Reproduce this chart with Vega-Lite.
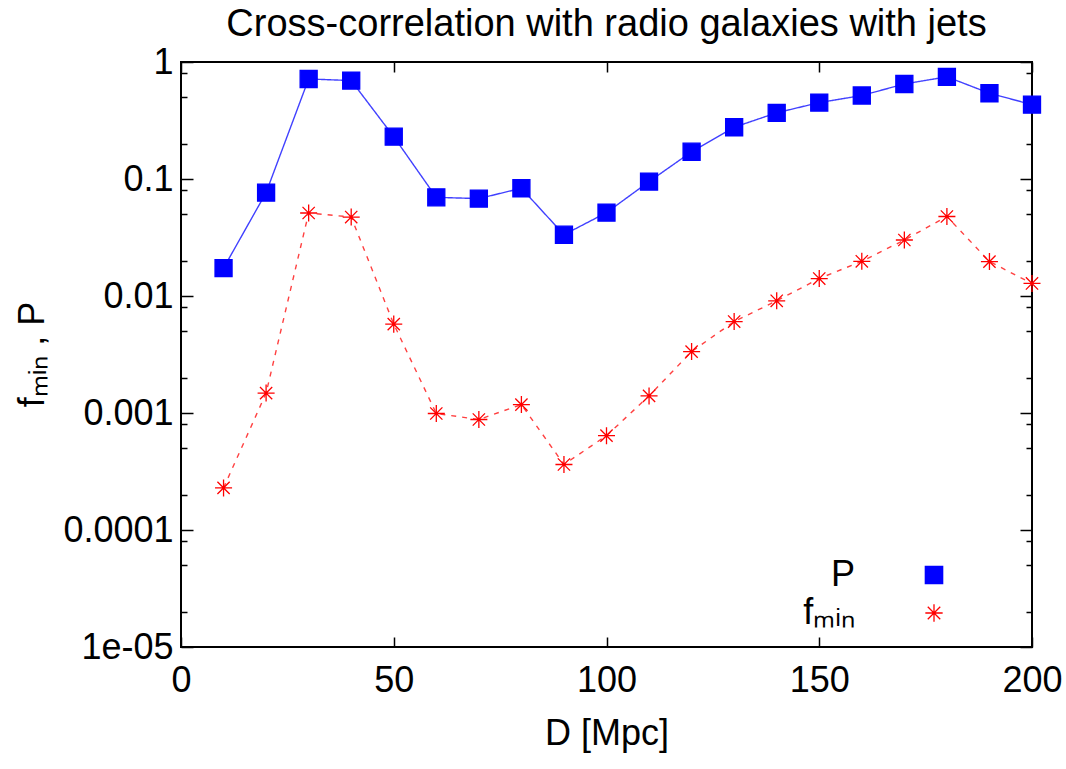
{
  "$schema": "https://vega.github.io/schema/vega-lite/v6.json",
  "width": 851,
  "height": 585,
  "autosize": {"type": "none"},
  "padding": {"left": 181, "top": 62, "right": 34, "bottom": 122},
  "background": "white",
  "config": {
    "font": "Liberation Sans",
    "view": {"stroke": "black", "strokeWidth": 2},
    "axis": {"domain": false, "grid": false, "labelFont": "Liberation Sans", "labelFontSize": 36, "labelColor": "black", "tickColor": "black", "tickWidth": 1.5, "titleFont": "Liberation Sans", "titleFontSize": 36, "titleFontWeight": "normal", "titleColor": "black", "labelOverlap": false, "labelFlush": false, "labelBound": false}
  },
  "title": {"text": "Cross-correlation with radio galaxies with jets", "font": "Liberation Sans", "fontSize": 38, "fontWeight": "normal", "color": "black", "baseline": "alphabetic", "offset": 24, "dy": 54, "anchor": "middle"},
  "data": {"values": [
    {"D": 10, "series": "P", "value": 0.0173},
    {"D": 20, "series": "P", "value": 0.0765},
    {"D": 30, "series": "P", "value": 0.716},
    {"D": 40, "series": "P", "value": 0.694},
    {"D": 50, "series": "P", "value": 0.23},
    {"D": 60, "series": "P", "value": 0.0697},
    {"D": 70, "series": "P", "value": 0.068},
    {"D": 80, "series": "P", "value": 0.0834},
    {"D": 90, "series": "P", "value": 0.0334},
    {"D": 100, "series": "P", "value": 0.0516},
    {"D": 110, "series": "P", "value": 0.095},
    {"D": 120, "series": "P", "value": 0.171},
    {"D": 130, "series": "P", "value": 0.277},
    {"D": 140, "series": "P", "value": 0.368},
    {"D": 150, "series": "P", "value": 0.45},
    {"D": 160, "series": "P", "value": 0.517},
    {"D": 170, "series": "P", "value": 0.649},
    {"D": 180, "series": "P", "value": 0.747},
    {"D": 190, "series": "P", "value": 0.541},
    {"D": 200, "series": "P", "value": 0.432},
    {"D": 10, "series": "fₘᵢₙ", "value": 0.000229},
    {"D": 20, "series": "fₘᵢₙ", "value": 0.00148},
    {"D": 30, "series": "fₘᵢₙ", "value": 0.0512},
    {"D": 40, "series": "fₘᵢₙ", "value": 0.0473},
    {"D": 50, "series": "fₘᵢₙ", "value": 0.00575},
    {"D": 60, "series": "fₘᵢₙ", "value": 0.00099},
    {"D": 70, "series": "fₘᵢₙ", "value": 0.00088},
    {"D": 80, "series": "fₘᵢₙ", "value": 0.00118},
    {"D": 90, "series": "fₘᵢₙ", "value": 0.000363},
    {"D": 100, "series": "fₘᵢₙ", "value": 0.00064},
    {"D": 110, "series": "fₘᵢₙ", "value": 0.0014},
    {"D": 120, "series": "fₘᵢₙ", "value": 0.00335},
    {"D": 130, "series": "fₘᵢₙ", "value": 0.00605},
    {"D": 140, "series": "fₘᵢₙ", "value": 0.0091},
    {"D": 150, "series": "fₘᵢₙ", "value": 0.0141},
    {"D": 160, "series": "fₘᵢₙ", "value": 0.0198},
    {"D": 170, "series": "fₘᵢₙ", "value": 0.0301},
    {"D": 180, "series": "fₘᵢₙ", "value": 0.0478},
    {"D": 190, "series": "fₘᵢₙ", "value": 0.0197},
    {"D": 200, "series": "fₘᵢₙ", "value": 0.0128}
  ]},
  "layer": [
    {
      "mark": {"type": "line", "strokeWidth": 1.4, "opacity": 0.75},
      "encoding": {
        "x": {"field": "D", "type": "quantitative", "scale": {"domain": [0, 200], "nice": false, "zero": false},
              "axis": {"orient": "bottom", "values": [0, 50, 100, 150, 200], "tickSize": -10, "labelPadding": 26, "title": "D [Mpc]", "titleY": 97, "titleBaseline": "alphabetic"}},
        "y": {"field": "value", "type": "quantitative", "scale": {"type": "log", "domain": [0.00001, 1], "nice": false},
              "axis": {"orient": "left",
                       "values": [0.00001, 0.00002, 0.00005, 0.00008, 0.0001, 0.0002, 0.0005, 0.0008, 0.001, 0.002, 0.005, 0.008, 0.01, 0.02, 0.05, 0.08, 0.1, 0.2, 0.5, 0.8, 1],
                       "tickSize": {"condition": {"test": "abs(log(datum.value)/LN10 - round(log(datum.value)/LN10)) < 0.001", "value": -12}, "value": -6},
                       "labelExpr": "abs(log(datum.value)/LN10 - round(log(datum.value)/LN10)) < 0.001 ? (datum.value < 0.00005 ? '1e-05' : format(datum.value, '~g')) : ''",
                       "labelPadding": 20,
                       "title": "fₘᵢₙ , P", "titleAngle": -90, "titleX": -138, "titleY": 292, "titleBaseline": "alphabetic", "titleAlign": "center"}},
        "detail": {"field": "series", "type": "nominal"},
        "color": {"condition": {"test": "datum.series == 'P'", "value": "#0000ff"}, "value": "#ff0000"},
        "strokeDash": {"condition": {"test": "datum.series == 'P'", "value": [1, 0]}, "value": [5, 6]}
      }
    },
    {
      "mark": {"type": "point", "size": 290, "strokeWidth": 1.3, "opacity": 1},
      "encoding": {
        "x": {"field": "D", "type": "quantitative",
              "axis": {"orient": "top", "values": [0, 50, 100, 150, 200], "tickSize": -10, "labels": false, "title": null}},
        "y": {"field": "value", "type": "quantitative",
              "axis": {"orient": "right",
                       "values": [0.00001, 0.00002, 0.00005, 0.00008, 0.0001, 0.0002, 0.0005, 0.0008, 0.001, 0.002, 0.005, 0.008, 0.01, 0.02, 0.05, 0.08, 0.1, 0.2, 0.5, 0.8, 1],
                       "tickSize": {"condition": {"test": "abs(log(datum.value)/LN10 - round(log(datum.value)/LN10)) < 0.001", "value": -12}, "value": -6},
                       "labels": false, "title": null}},
        "fill": {"field": "series", "type": "nominal", "scale": {"domain": ["P", "fₘᵢₙ"], "range": ["#0000ff", "#ff0000"]},
                 "legend": {"orient": "none", "legendX": 735, "legendY": 495, "title": null, "labelAlign": "right", "labelOffset": -97, "labelFont": "Liberation Sans", "labelFontSize": 36, "labelColor": "black", "symbolSize": 300, "symbolStrokeWidth": 1.3, "rowPadding": 2, "labelLimit": 300}},
        "stroke": {"field": "series", "type": "nominal", "scale": {"domain": ["P", "fₘᵢₙ"], "range": ["#0000ff", "#ff0000"]}},
        "shape": {"field": "series", "type": "nominal", "scale": {"domain": ["P", "fₘᵢₙ"], "range": ["square", "M-1,0L1,0M0,-1L0,1M-0.72,-0.72L0.72,0.72M-0.72,0.72L0.72,-0.72"]}}
      }
    }
  ],
  "resolve": {"axis": {"x": "independent", "y": "independent"}}
}
